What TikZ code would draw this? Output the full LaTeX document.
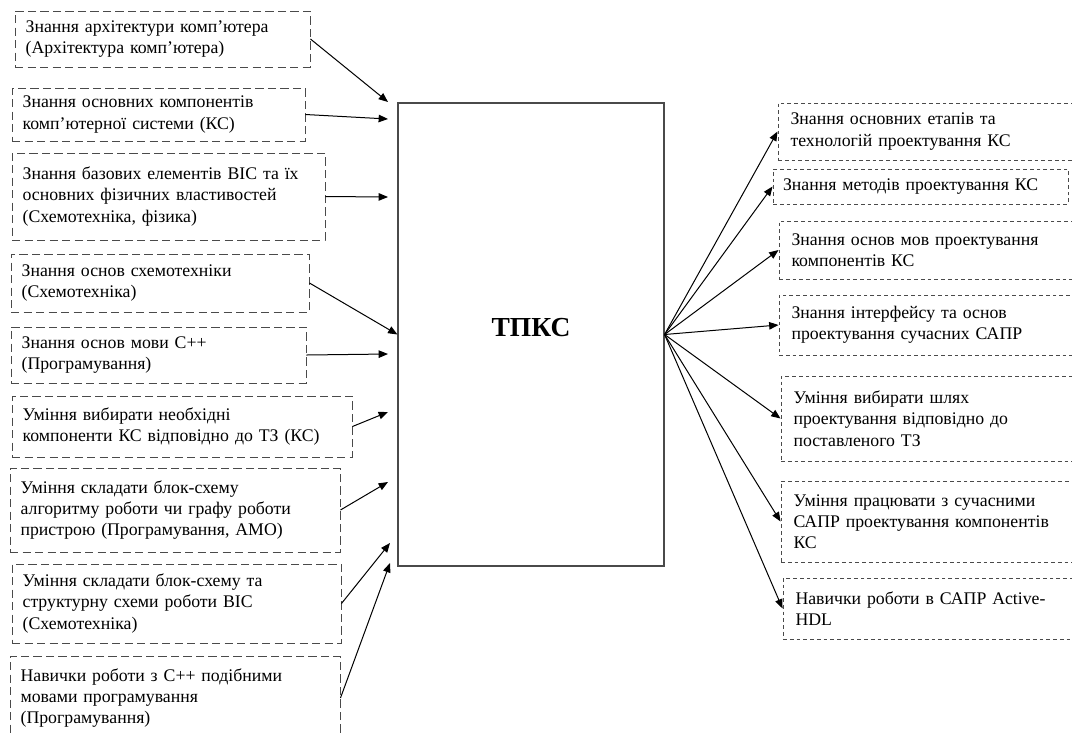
\documentclass[tikz,border=0pt]{standalone}
\usepackage{fontspec}
\setmainfont{Liberation Serif}
\usetikzlibrary{arrows.meta}
\definecolor{ramka}{HTML}{4A4A4A}
\definecolor{strl}{HTML}{000000}
\tikzset{
  blok/.style={draw=ramka,line width=0.75pt,align=left,inner xsep=8.5pt,inner ysep=2pt,font=\fontsize{14.2}{17}\selectfont},
  blokL/.style={blok,dash pattern=on 6.5pt off 3.5pt},
  blokP/.style={blok,dash pattern=on 3pt off 2.4pt,inner xsep=10pt},
  strilka/.style={-{Triangle[length=7.5pt,width=6pt]},strl,line width=0.8pt},
  tsentr/.style={draw=ramka,line width=0.9pt},
}
\begin{document}
\begin{tikzpicture}[x=0.8pt,y=-0.8pt]
  \useasboundingbox (0,0) rectangle (1072,735);
  \node[tsentr,minimum width=212.8pt,minimum height=370.4pt,
    label={[yshift=5.6pt,font=\fontsize{22}{26}\selectfont\bfseries]center:ТПКС}] (tpks) at (531,334.5) {};
  % вхідні знання та уміння
  \node[blokL,minimum height=44.8pt,text width=219pt] (b1) at (162.5,39)
    {Знання архітектури комп’ютера\\(Архітектура комп’ютера)};
  \node[blokL,minimum height=42.4pt,text width=217.4pt] (b2) at (158.5,114.5)
    {Знання основних компонентів\\комп’ютерної системи (КС)};
  \node[blokL,minimum height=69.6pt,text width=233.4pt] (b3) at (168.5,196.5)
    {Знання базових елементів ВІС та їх\\основних фізичних властивостей\\(Схемотехніка, фізика)};
  \node[blokL,minimum height=46.4pt,text width=221.4pt] (b4) at (160,283)
    {Знання основ схемотехніки\\(Схемотехніка)};
  \node[blokL,minimum height=44.8pt,text width=219pt] (b5) at (158.5,355)
    {Знання основ мови C++\\(Програмування)};
  \node[blokL,minimum height=48.8pt,text width=255pt] (b6) at (182,426.5)
    {Уміння вибирати необхідні\\компоненти КС відповідно до ТЗ (КС)};
  \node[blokL,minimum height=67.2pt,text width=247pt] (b7) at (175,510)
    {Уміння складати блок-схему\\алгоритму роботи чи графу роботи\\пристрою (Програмування, АМО)};
  \node[blokL,minimum height=63.2pt,text width=246.2pt] (b8) at (176.5,603.5)
    {Уміння складати блок-схему та\\структурну схеми роботи ВІС\\(Схемотехніка)};
  \node[blokL,minimum height=67.2pt,text width=247pt] (b9) at (175,698)
    {Навички роботи з C++ подібними\\мовами програмування\\(Програмування)};
  % вихідні знання та уміння
  \node[blokP,minimum height=45.6pt,text width=221.6pt] (r1) at (929,131.5)
    {Знання основних етапів та\\технологій проектування КС};
  \node[blokP,inner xsep=8pt,minimum height=28pt,text width=220pt] (r2) at (920.5,186.5)
    {Знання методів проектування КС};
  \node[blokP,minimum height=46.4pt,text width=220.8pt] (r3) at (929.5,250)
    {Знання основ мов проектування\\компонентів КС};
  \node[blokP,minimum height=48pt,text width=220.8pt] (r4) at (929.5,325)
    {Знання інтерфейсу та основ\\проектування сучасних САПР};
  \node[blokP,minimum height=68pt,text width=219.2pt] (r5) at (930.5,418.5)
    {Уміння вибирати шлях\\проектування відповідно до\\поставленого ТЗ};
  \node[blokP,minimum height=64.8pt,text width=219.2pt] (r6) at (930.5,521.5)
    {Уміння працювати з сучасними\\САПР проектування компонентів\\КС};
  \node[blokP,minimum height=48.8pt,text width=217.6pt] (r7) at (931.5,608.5)
    {Навички роботи в САПР Active-\\HDL};
  % кінці стрілок біля ТПКС
  \coordinate (t1) at (388,102);
  \coordinate (t2) at (388,119);
  \coordinate (t3) at (388,197);
  \coordinate (t5) at (388,354);
  \coordinate (t6) at (388,412);
  \coordinate (t7) at (388,482);
  \coordinate (t8) at (390,543);
  \coordinate (t9) at (390,563);
  \foreach \i in {1,2,3,5,6,7,8,9}
    \draw[strilka] (b\i.east) -- (t\i);
  \draw[strilka] (b4.east) -- (tpks.west);
  \foreach \i in {1,...,7}
    \draw[strilka] (tpks.east) -- (r\i.west);
\end{tikzpicture}
\end{document}
